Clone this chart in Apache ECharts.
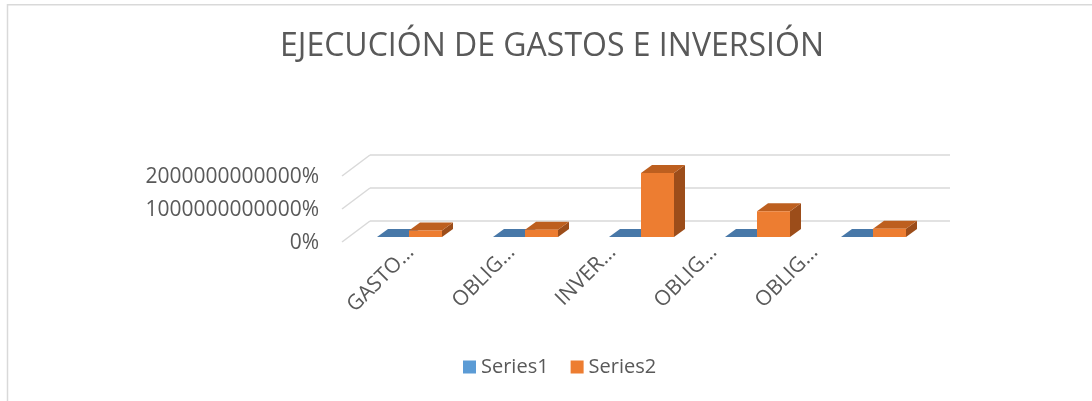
<!DOCTYPE html>
<html>
<head>
<meta charset="utf-8">
<script src="https://cdn.jsdelivr.net/npm/echarts@6/dist/echarts.min.js"></script>
<style>
  html, body { margin: 0; padding: 0; background: #fff; }
  #chart { width: 1092px; height: 401px; }
</style>
</head>
<body>
<div id="chart"></div>
<script>
// datos
const categories = ['GASTO…', 'OBLIG…', 'INVER…', 'OBLIG…', 'OBLIG…'];
const series1 = [0.9, 0.8, 0.7, 0.9, 0.95];
const series2 = [0.2e12, 0.22e12, 1.94e12, 0.78e12, 0.25e12];
const yTicks = [0, 1e12, 2e12];

const FONT = '"Open Sans", "Noto Sans", sans-serif';
const TXT = '#595959';
const GRIDC = '#d9d9d9';

// caras de las barras: frente, arriba, lado
const faces = [
  { front: '#5b9bd5', top: '#4878a8', side: '#3e6a93' },
  { front: '#ed7d31', top: '#bd5f1f', side: '#9c4d1a' }
];

// desplazamiento de profundidad (pared del fondo -> frente del piso)
const FLOOR = [-28, 21];
const BAR_FRONT = [-19, 16];
const BAR_DEPTH = [11, -8];

function barItem(idx) {
  return function (params, api) {
    const i = api.value(0), v = api.value(1);
    const base = api.coord([i, 0]);
    const top = api.coord([i, v]);
    const cx = base[0] + BAR_FRONT[0];
    const x0 = idx === 0 ? cx - 32 : cx;
    const x1 = idx === 0 ? cx : cx + 33;
    const yb = base[1] + BAR_FRONT[1];
    const yt = top[1] + BAR_FRONT[1];
    const dx = BAR_DEPTH[0], dy = BAR_DEPTH[1];
    const c = faces[idx];
    return {
      type: 'group',
      children: [
        { type: 'polygon', shape: { points: [[x1, yt], [x1 + dx, yt + dy], [x1 + dx, yb + dy], [x1, yb]] }, style: { fill: c.side } },
        { type: 'polygon', shape: { points: [[x0, yt], [x1, yt], [x1 + dx, yt + dy], [x0 + dx, yt + dy]] }, style: { fill: c.top } },
        { type: 'polygon', shape: { points: [[x0, yt], [x1, yt], [x1, yb], [x0, yb]] }, style: { fill: c.front } }
      ]
    };
  };
}

// lineas diagonales del piso / pared lateral
function floorLine(params, api) {
  const p = api.coord([0, api.value(1)]);
  const half = api.size([1, 0])[0] / 2;
  const x = p[0] - half, y = p[1];
  return {
    type: 'line',
    shape: { x1: x, y1: y, x2: x + FLOOR[0], y2: y + FLOOR[1] },
    style: { stroke: GRIDC, lineWidth: 1.5 }
  };
}

const chart = echarts.init(document.getElementById('chart'));
chart.setOption({
  animation: false,
  backgroundColor: '#fff',
  title: {
    text: 'EJECUCIÓN DE GASTOS E INVERSIÓN',
    left: 280,
    top: 31,
    padding: 0,
    textStyle: { fontFamily: FONT, fontSize: 32, fontWeight: 'normal', color: TXT }
  },
  legend: {
    left: 458,
    top: 352,
    icon: 'rect',
    itemWidth: 13,
    itemHeight: 13,
    itemGap: 22,
    textStyle: { fontFamily: FONT, fontSize: 20, color: TXT },
    data: ['Series1', 'Series2']
  },
  graphic: [{
    type: 'rect',
    shape: { x: 7.5, y: 4.8, width: 1200, height: 500 },
    style: { fill: 'none', stroke: GRIDC, lineWidth: 1.5 },
    silent: true
  }],
  grid: [
    { left: 370, top: 155, width: 580, height: 66 },
    { left: 360, top: 177, width: 505, height: 66 }
  ],
  xAxis: [
    {
      gridIndex: 0, type: 'category', data: categories,
      axisLine: { show: false }, axisTick: { show: false }, axisLabel: { show: false }
    },
    {
      gridIndex: 1, type: 'category', data: categories,
      axisLine: { show: false }, axisTick: { show: false },
      axisLabel: { interval: 0, rotate: 45, margin: 6, fontFamily: FONT, fontSize: 21, color: TXT }
    }
  ],
  yAxis: [
    {
      gridIndex: 0, type: 'value', min: 0, max: 2e12, interval: 1e12,
      axisLine: { show: false }, axisTick: { show: false }, axisLabel: { show: false },
      splitLine: { lineStyle: { color: GRIDC, width: 1.5 } }
    },
    {
      gridIndex: 1, type: 'value', min: 0, max: 2e12, interval: 1e12,
      axisLine: { show: false }, axisTick: { show: false }, splitLine: { show: false },
      axisLabel: { margin: 41, fontFamily: FONT, fontSize: 21, color: TXT, formatter: v => String(v) + '%' }
    }
  ],
  series: [
    {
      type: 'custom', silent: true, xAxisIndex: 0, yAxisIndex: 0,
      renderItem: floorLine,
      data: yTicks.map(v => [0, v])
    },
    {
      name: 'Series1', type: 'custom', xAxisIndex: 0, yAxisIndex: 0,
      itemStyle: { color: faces[0].front },
      renderItem: barItem(0),
      data: series1.map((v, i) => [i, v])
    },
    {
      name: 'Series2', type: 'custom', xAxisIndex: 0, yAxisIndex: 0,
      itemStyle: { color: faces[1].front },
      renderItem: barItem(1),
      data: series2.map((v, i) => [i, v])
    }
  ]
});
</script>
</body>
</html>
